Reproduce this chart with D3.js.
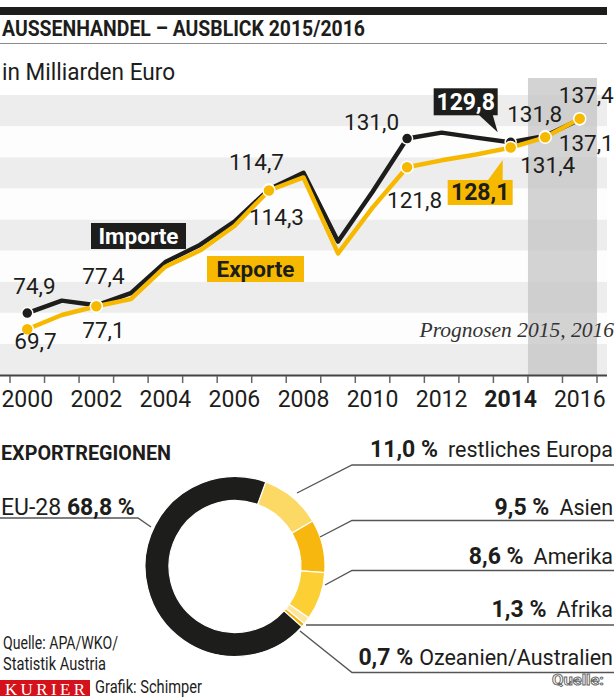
<!DOCTYPE html>
<html><head><meta charset="utf-8">
<script src="https://cdn.jsdelivr.net/npm/d3@7"></script>
<style>
body{margin:0;background:#fff;}
svg{display:block;}
text{font-family:Roboto,'Liberation Sans',sans-serif;fill:#1d1d1b;}
</style></head><body>
<svg id="c" width="616" height="698"></svg>
<script>
// ---------- data ----------
const years = [2000,2001,2002,2003,2004,2005,2006,2007,2008,2009,2010,2011,2012,2013,2014,2015,2016];
const importe = [74.9,78.9,77.4,81.3,91.3,96.8,104.3,114.7,120.0,97.9,113.9,131.0,132.9,131.3,129.8,131.8,137.1];
const exporte = [69.7,74.3,77.1,79.4,89.8,95.0,102.9,114.3,118.5,94.1,108.8,121.8,124.0,125.9,128.1,131.4,137.4];
const tickYears = [2000,2002,2004,2006,2008,2010,2012,2014,2016];
const boldTickYears = [2014];
const forecastYears = [2015,2016];
const markYears = [2000,2002,2007,2011,2014,2015,2016];
const stripeBreaks = [55,65,75,85,95,105,115,125,135,145];
const regions = ["restliches Europa","Asien","Amerika","Afrika","Ozeanien/Australien","EU-28"];
const shares = [11.0,9.5,8.6,1.3,0.7,68.8];

// ---------- setup ----------
const svg = d3.select("#c");
const loc = d3.formatLocale({decimal:",",thousands:".",grouping:[3],currency:["","€"]});
const f1 = loc.format(".1f");
const BLACK="#1d1d1b", YEL="#f6b900";

// header
svg.append("rect").attr("x",0).attr("y",7).attr("width",607).attr("height",8).attr("fill",BLACK);
svg.append("text").attr("x",2).attr("y",35.5).attr("font-size",21.5).attr("font-weight",700)
  .attr("textLength",363).attr("lengthAdjust","spacingAndGlyphs").text("AUSSENHANDEL – AUSBLICK 2015/2016");
svg.append("line").attr("x1",0).attr("x2",607).attr("y1",43.5).attr("y2",43.5).attr("stroke","#8a8a8a").attr("stroke-width",1.2);
svg.append("text").attr("x",2).attr("y",80).attr("font-size",24)
  .attr("textLength",173).attr("lengthAdjust","spacingAndGlyphs").text("in Milliarden Euro");

// scales
const x = d3.scaleBand().domain(years).range([10,597]);
const bw = x.bandwidth();
const cx = yr => x(yr)+bw/2;
const y = d3.scaleLinear().domain([55,145]).range([375,95]);

// stripes
const g = svg.append("g");
d3.pairs(stripeBreaks).forEach(([a,b],i)=>{
  g.append("rect").attr("x",0).attr("width",607).attr("y",y(b)).attr("height",y(a)-y(b))
   .attr("fill", i%2===0 ? "#eeeded" : "#fdfdfd");
});
// forecast shading
g.append("rect").attr("x",x(forecastYears[0])).attr("width",x(forecastYears[1])+bw-x(forecastYears[0]))
  .attr("y",78).attr("height",y(55)-78).attr("fill","#c4c4c4").attr("opacity",0.75);

svg.append("text").attr("x",614).attr("y",336.5).attr("text-anchor","end")
  .attr("font-style","italic").attr("font-size",21.5)
  .style("font-family","'Liberation Serif',serif").style("fill","#333")
  .text("Prognosen 2015, 2016");

// axis
svg.append("line").attr("x1",0).attr("x2",607).attr("y1",375.5).attr("y2",375.5).attr("stroke","#444").attr("stroke-width",2);
const tickPos = years.map(yr=>x(yr)).concat([x(years[years.length-1])+bw]);
svg.selectAll(".tk").data(tickPos).join("line").attr("class","tk")
  .attr("x1",d=>d).attr("x2",d=>d).attr("y1",376).attr("y2",383).attr("stroke","#666").attr("stroke-width",1.5);
svg.selectAll(".tl").data(tickYears).join("text").attr("class","tl")
  .attr("x",d=>cx(d)).attr("y",406.5).attr("text-anchor","middle").attr("font-size",23)
  .attr("font-weight",d=>boldTickYears.includes(d)?700:400).text(d=>d);

// lines
const line = d3.line().x((d,i)=>cx(years[i])).y(d=>y(d));
svg.append("path").attr("d",line(importe)).attr("fill","none").attr("stroke",BLACK).attr("stroke-width",4.5).attr("stroke-linejoin","round");
svg.selectAll(".pi").data(markYears).join("circle").attr("class","pi")
  .attr("cx",d=>cx(d)).attr("cy",d=>y(importe[years.indexOf(d)])).attr("r",5.5)
  .attr("fill",BLACK).attr("stroke","#fff").attr("stroke-width",1.5);
svg.append("path").attr("d",line(exporte)).attr("fill","none").attr("stroke",YEL).attr("stroke-width",4.5).attr("stroke-linejoin","round");
svg.selectAll(".pe").data(markYears).join("circle").attr("class","pe")
  .attr("cx",d=>cx(d)).attr("cy",d=>y(exporte[years.indexOf(d)])).attr("r",6)
  .attr("fill",YEL).attr("stroke","#fff").attr("stroke-width",1.5);

// value labels (offsets from points)
const labelSpecs = [
  {s:importe, yr:2000, dx:-14, dy:-19},
  {s:exporte, yr:2000, dx:-13, dy:20},
  {s:importe, yr:2002, dx:-14, dy:-21},
  {s:exporte, yr:2002, dx:-14, dy:32},
  {s:importe, yr:2007, dx:-40, dy:-19},
  {s:exporte, yr:2007, dx:-20, dy:34.5},
  {s:importe, yr:2011, dx:-63, dy:-9},
  {s:exporte, yr:2011, dx:-20, dy:41},
  {s:importe, yr:2015, dx:-38, dy:-14.5},
  {s:exporte, yr:2015, dx:-25, dy:36},
  {s:exporte, yr:2016, dx:-21, dy:-16},
  {s:importe, yr:2016, dx:-21, dy:31},
];
labelSpecs.forEach(l=>{
  const v = l.s[years.indexOf(l.yr)];
  svg.append("text").attr("x",cx(l.yr)+l.dx).attr("y",y(v)+l.dy).attr("font-size",22.5).text(f1(v));
});

// callouts for 2014
(function(){
  const yr=2014, px=cx(yr);
  const vi=importe[years.indexOf(yr)], py=y(vi);
  svg.append("rect").attr("x",px-77).attr("y",py-54).attr("width",64).attr("height",27).attr("fill",BLACK);
  svg.append("path").attr("d",`M${px-32},${py-27.5}L${px-18},${py-27.5}L${px-13},${py-10}Z`).attr("fill",BLACK);
  svg.append("text").attr("x",px-45).attr("y",py-32).attr("text-anchor","middle").attr("font-size",23)
    .attr("font-weight",700).style("fill","#fff").text(f1(vi));
  const ve=exporte[years.indexOf(yr)], pe=y(ve);
  svg.append("rect").attr("x",px-63).attr("y",pe+32.4).attr("width",65).attr("height",25).attr("fill",YEL);
  svg.append("path").attr("d",`M${px-23},${pe+33}L${px-8},${pe+33}L${px-8},${pe+12.4}Z`).attr("fill",YEL);
  svg.append("text").attr("x",px-30.5).attr("y",pe+52.4).attr("text-anchor","middle").attr("font-size",23)
    .attr("font-weight",700).text(f1(ve));
})();

// series legend boxes
svg.append("rect").attr("x",91).attr("y",223).attr("width",95).attr("height",26).attr("fill",BLACK);
svg.append("text").attr("x",138.5).attr("y",243.5).attr("text-anchor","middle").attr("font-size",22).attr("font-weight",700)
  .attr("textLength",80).attr("lengthAdjust","spacingAndGlyphs").style("fill","#fff").text("Importe");
svg.append("rect").attr("x",207).attr("y",256).attr("width",97).attr("height",26).attr("fill",YEL);
svg.append("text").attr("x",255.5).attr("y",276.5).attr("text-anchor","middle").attr("font-size",22).attr("font-weight",700)
  .attr("textLength",78).attr("lengthAdjust","spacingAndGlyphs").text("Exporte");

// ---------- Exportregionen ----------
svg.append("text").attr("x",1).attr("y",460).attr("font-size",21).attr("font-weight",700)
  .attr("textLength",170).attr("lengthAdjust","spacingAndGlyphs").text("EXPORTREGIONEN");

const regionColors = ["#fcd964","#f7b70e","#fccf34","#fde4a0","#f3b200",BLACK];
const pie = d3.pie().sort(null).value(d=>d).startAngle(20*Math.PI/180).endAngle(380*Math.PI/180);
const arc = d3.arc().innerRadius(66).outerRadius(90);
const dg = svg.append("g").attr("transform","translate(235,566.5)");
dg.selectAll("path").data(pie(shares)).join("path").attr("d",arc)
  .attr("fill",(d,i)=>regionColors[i]).attr("stroke","#fff").attr("stroke-width",1.2);

// leader lines
const leaders = [
  [[297,493],[352,465],[614,465]],
  [[320,537],[352,520.5],[614,520.5]],
  [[325,585],[352,570.5],[614,570.5]],
  [[306,625],[614,625]],
  [[300,631],[352,672.5],[614,672.5]],
  [[151,527],[138,518],[0,518]]
];
leaders.forEach(p=>svg.append("path").attr("d",d3.line()(p)).attr("fill","none").attr("stroke","#555").attr("stroke-width",1.4));

const rightBase = [457,515,564,617,665];
regions.slice(0,5).forEach((r,i)=>{
  const t = svg.append("text").attr("x",613).attr("y",rightBase[i]).attr("text-anchor","end").attr("font-size",21.5);
  t.append("tspan").attr("font-weight",700).attr("font-size",23).text(f1(shares[i])+" %");
  t.append("tspan").attr("dx",i===4?6:10).text(r);
});
const eu = svg.append("text").attr("x",1).attr("y",515).attr("font-size",23);
eu.append("tspan").text(regions[5]+" ");
eu.append("tspan").attr("font-weight",700).text(f1(shares[5])+" %");

// footer
svg.append("text").attr("x",3).attr("y",649).attr("font-size",18).attr("textLength",115).attr("lengthAdjust","spacingAndGlyphs").text("Quelle: APA/WKO/");
svg.append("text").attr("x",3).attr("y",669.5).attr("font-size",18).attr("textLength",103).attr("lengthAdjust","spacingAndGlyphs").text("Statistik Austria");
svg.append("rect").attr("x",0).attr("y",680).attr("width",90).attr("height",16).attr("fill","#d3121b");
svg.append("text").attr("x",5).attr("y",695).attr("font-size",17).style("font-family","'Liberation Serif',serif").style("fill","#fff")
  .attr("textLength",80).attr("lengthAdjust","spacing").text("KURIER");
svg.append("text").attr("x",95).attr("y",693).attr("font-size",18).attr("textLength",107).attr("lengthAdjust","spacingAndGlyphs").text("Grafik: Schimper");
svg.append("text").attr("x",552).attr("y",685).attr("font-size",15).attr("font-weight",700)
  .style("fill","#fff").attr("stroke","#666").attr("stroke-width",0.9).attr("textLength",52).attr("lengthAdjust","spacingAndGlyphs").text("Quelle:");
</script>
</body></html>
